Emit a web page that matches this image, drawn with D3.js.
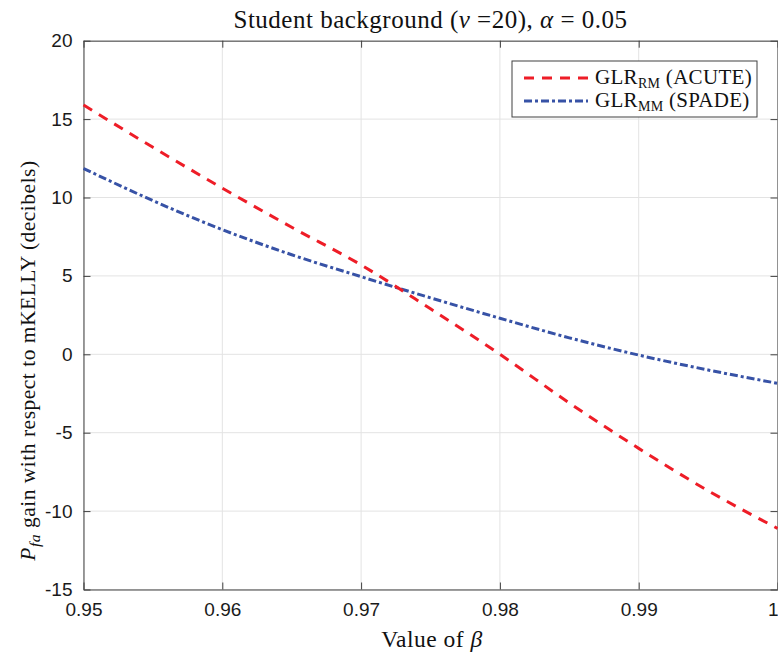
<!DOCTYPE html>
<html>
<head>
<meta charset="utf-8">
<script src="https://cdn.jsdelivr.net/npm/d3@7"></script>
<style>
  html, body { margin: 0; padding: 0; background: #fff; }
  svg { display: block; }
</style>
</head>
<body>
<svg id="chart" width="778" height="652"></svg>
<script>
// ---- data ----
const betaValues = [0.95, 0.955, 0.96, 0.965, 0.97, 0.975, 0.98, 0.985, 0.99, 0.995, 1.0];
const acuteGain  = [15.9, 13.2, 10.6, 8.1, 5.7, 2.9, 0.0, -3.1, -6.0, -8.7, -11.1];
const spadeGain  = [11.85, 9.8, 7.95, 6.35, 4.95, 3.6, 2.3, 1.05, -0.05, -1.0, -1.85];
const xTicks = [0.95, 0.96, 0.97, 0.98, 0.99, 1.0];
const xTickLabels = ["0.95", "0.96", "0.97", "0.98", "0.99", "1"];
const yTicks = [-15, -10, -5, 0, 5, 10, 15, 20];
const yTickLabels = ["-15", "-10", "-5", "0", "5", "10", "15", "20"];

const svg = d3.select("#chart");
const L = 83.5, R = 777.5, T = 40.7, B = 589.5;
const x = d3.scaleLinear().domain([0.95, 1.0]).range([L, R]);
const y = d3.scaleLinear().domain([-15, 20]).range([B, T]);

const sansFont = "'Liberation Sans', Arial, Helvetica, sans-serif";
const serifFont = "'Liberation Serif', 'Times New Roman', serif";

// grid
const grid = svg.append("g");
grid.selectAll("line.gx").data(xTicks).enter().append("line")
  .attr("x1", d => x(d)).attr("x2", d => x(d)).attr("y1", T).attr("y2", B)
  .attr("stroke", "#e3e3e3").attr("stroke-width", 1);
grid.selectAll("line.gy").data(yTicks).enter().append("line")
  .attr("y1", d => y(d)).attr("y2", d => y(d)).attr("x1", L).attr("x2", R)
  .attr("stroke", "#e3e3e3").attr("stroke-width", 1);

// axes (ticks inward)
const axisColor = "#404040";
const yAxisL = d3.axisLeft(y).tickValues(yTicks).tickFormat((d, i) => yTickLabels[i]).tickSizeInner(-7).tickSizeOuter(0).tickPadding(11);
const gyl = svg.append("g").attr("transform", `translate(${L},0)`).call(yAxisL);
const yAxisR = d3.axisRight(y).tickValues(yTicks).tickFormat("").tickSizeInner(-7).tickSizeOuter(0);
const gyr = svg.append("g").attr("transform", `translate(${R},0)`).call(yAxisR);
const xAxisB = d3.axisBottom(x).tickValues(xTicks).tickFormat((d, i) => xTickLabels[i]).tickSizeInner(-7).tickSizeOuter(0).tickPadding(13);
const gxb = svg.append("g").attr("transform", `translate(0,${B})`).call(xAxisB);
const xAxisT = d3.axisTop(x).tickValues(xTicks).tickFormat("").tickSizeInner(-7).tickSizeOuter(0);
const gxt = svg.append("g").attr("transform", `translate(0,${T})`).call(xAxisT);

[gyl, gyr, gxb, gxt].forEach(g => {
  g.selectAll("path.domain").attr("stroke", axisColor).attr("stroke-width", 1);
  g.selectAll(".tick line").attr("stroke", axisColor).attr("stroke-width", 1);
  g.selectAll(".tick text").attr("fill", "#1a1a1a").style("font-family", sansFont).style("font-size", "19px");
});
// keep the last x label inside the canvas
gxb.selectAll(".tick text").filter((d, i) => i === xTicks.length - 1)
  .attr("text-anchor", "end").attr("x", 0.5);

// lines
const lineGen = vals => d3.line()
  .x((d, i) => x(betaValues[i]))
  .y(d => y(d))
  .curve(d3.curveMonotoneX)(vals);

const redColor = "#ee1d27";
const blueColor = "#3752a6";

const plot = svg.append("g");
plot.append("path").attr("d", lineGen(spadeGain))
  .attr("fill", "none").attr("stroke", blueColor).attr("stroke-width", 3)
  .attr("stroke-dasharray", "8,3,3,3");
plot.append("path").attr("d", lineGen(acuteGain))
  .attr("fill", "none").attr("stroke", redColor).attr("stroke-width", 3)
  .attr("stroke-dasharray", "10,8");

// legend
const leg = svg.append("g");
leg.append("rect").attr("x", 512).attr("y", 61).attr("width", 245).attr("height", 56)
  .attr("fill", "#fff").attr("stroke", axisColor).attr("stroke-width", 1);
const legendItems = [
  { color: redColor, dash: "10,8", sub: "RM", name: " (ACUTE)", yy: 78 },
  { color: blueColor, dash: "8,3,3,3", sub: "MM", name: " (SPADE)", yy: 101 }
];
legendItems.forEach(it => {
  leg.append("line").attr("x1", 524).attr("x2", 588).attr("y1", it.yy).attr("y2", it.yy)
    .attr("stroke", it.color).attr("stroke-width", 3).attr("stroke-dasharray", it.dash);
  const t = leg.append("text").attr("x", 595).attr("y", it.yy + 6)
    .style("font-family", serifFont).style("font-size", "21px").style("letter-spacing", "0.3px").attr("fill", "#111");
  t.append("tspan").text("GLR");
  t.append("tspan").attr("dy", 4).style("font-size", "14px").text(it.sub);
  t.append("tspan").attr("dy", -4).text(it.name);
});

// title
const title = svg.append("text").attr("x", 430.5).attr("y", 28).attr("text-anchor", "middle")
  .style("font-family", serifFont).style("font-size", "25px").style("letter-spacing", "0.5px").attr("fill", "#111");
title.append("tspan").text("Student background (");
title.append("tspan").style("font-style", "italic").text("ν");
title.append("tspan").text(" =20), ");
title.append("tspan").style("font-style", "italic").text("α");
title.append("tspan").text(" = 0.05");

// x label
const xl = svg.append("text").attr("x", 432).attr("y", 647).attr("text-anchor", "middle")
  .style("font-family", serifFont).style("font-size", "23.5px").style("letter-spacing", "0.5px").attr("fill", "#111");
xl.append("tspan").text("Value of ");
xl.append("tspan").style("font-style", "italic").text("β");

// y label
const yl = svg.append("text").attr("transform", "translate(35,360.5) rotate(-90)").attr("text-anchor", "middle")
  .style("font-family", serifFont).style("font-size", "21.5px").style("letter-spacing", "0.5px").attr("fill", "#111");
yl.append("tspan").style("font-style", "italic").text("P");
yl.append("tspan").attr("dy", 5).style("font-style", "italic").style("font-size", "15.5px").text("fa");
yl.append("tspan").attr("dy", -5).text(" gain with respect to mKELLY (decibels)");
</script>
</body>
</html>
